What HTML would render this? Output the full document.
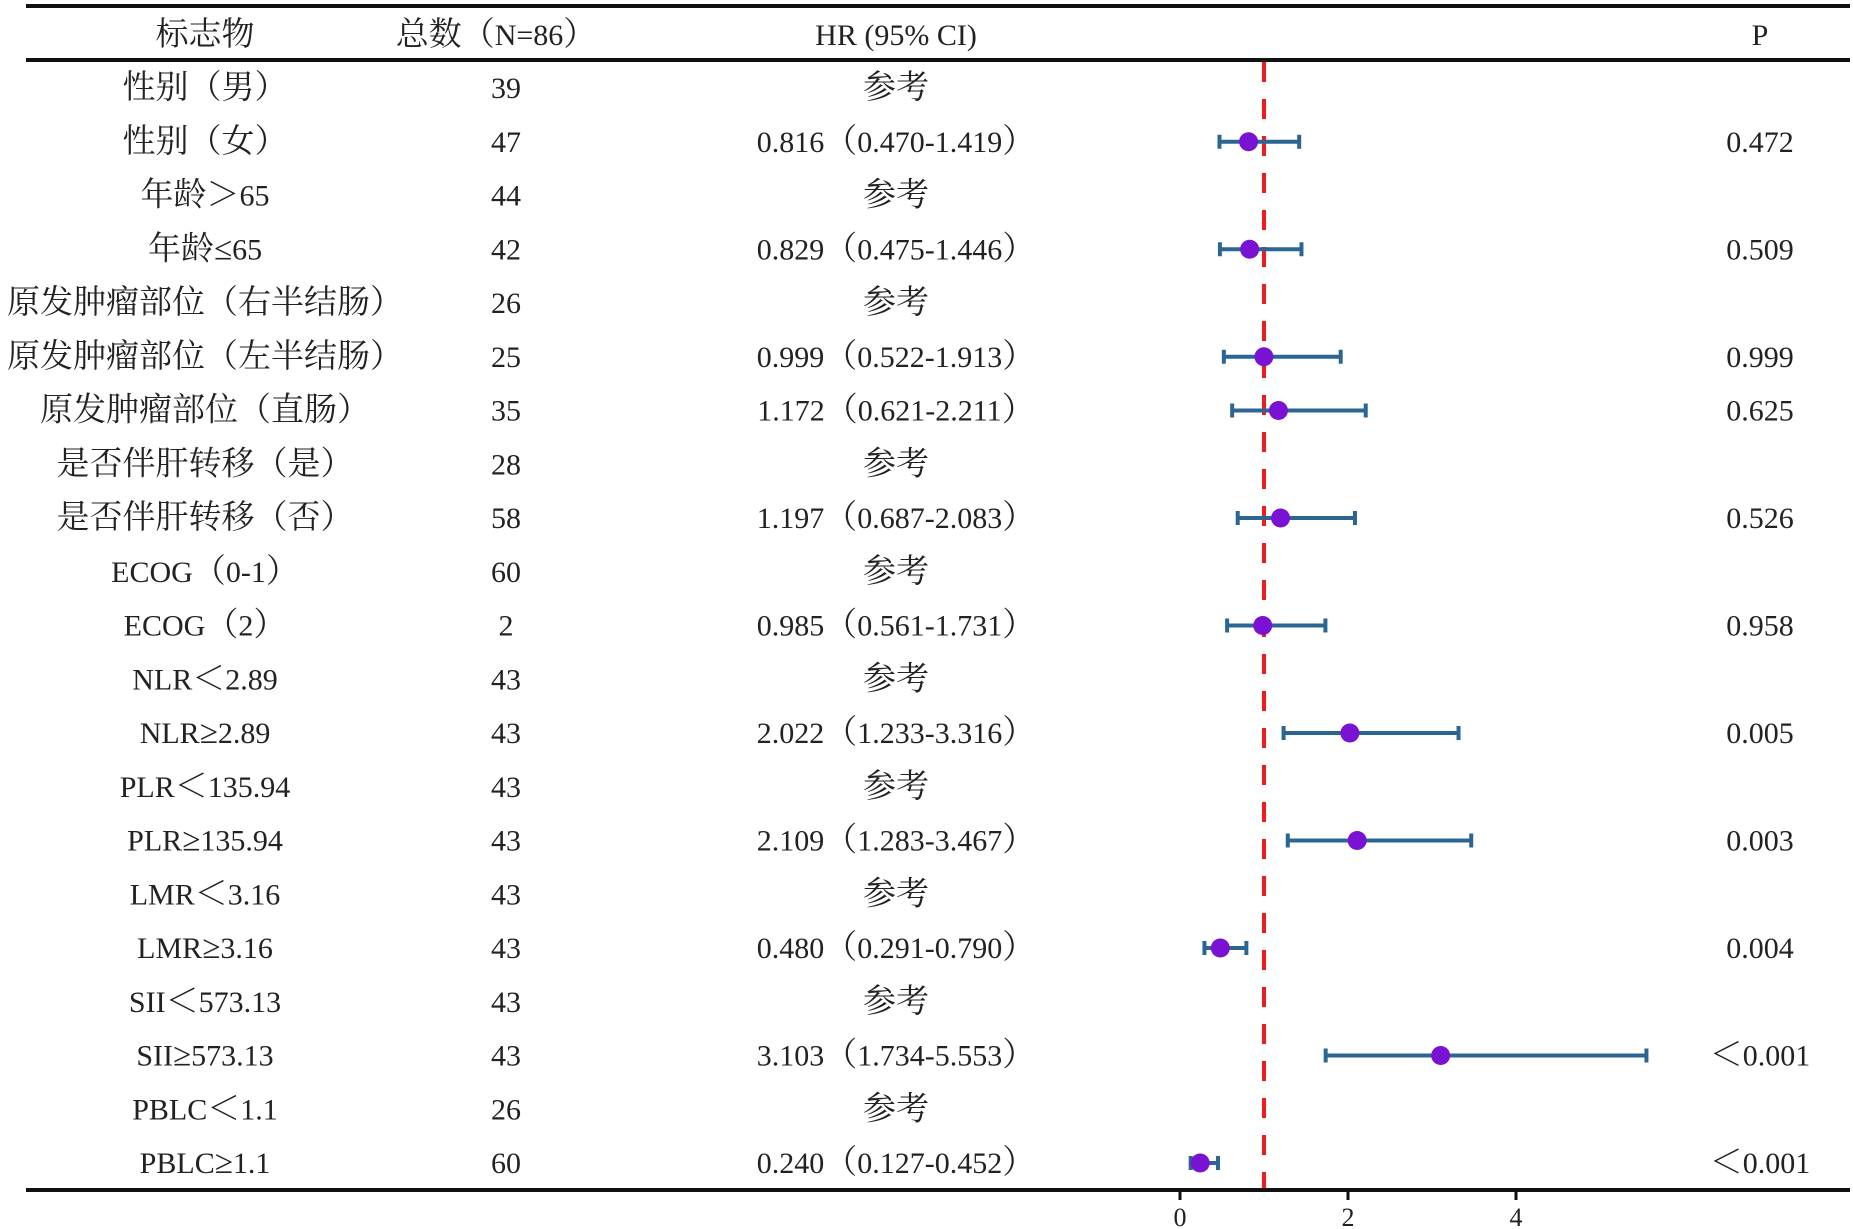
<!DOCTYPE html>
<html><head><meta charset="utf-8"><style>
html,body{margin:0;padding:0;background:#fff;}
svg{display:block;}
text{font-family:"Liberation Serif","Noto Serif CJK SC",serif;font-size:30px;fill:#222;}
</style></head><body>
<svg id="chart" width="1853" height="1229" viewBox="0 0 1853 1229"></svg>
<script>
const labels=["性别（男）","性别（女）","年龄＞65","年龄≤65","原发肿瘤部位（右半结肠）","原发肿瘤部位（左半结肠）","原发肿瘤部位（直肠）","是否伴肝转移（是）","是否伴肝转移（否）","ECOG（0-1）","ECOG（2）","NLR＜2.89","NLR≥2.89","PLR＜135.94","PLR≥135.94","LMR＜3.16","LMR≥3.16","SII＜573.13","SII≥573.13","PBLC＜1.1","PBLC≥1.1"];
const counts=[39,47,44,42,26,25,35,28,58,60,2,43,43,43,43,43,43,43,43,26,60];
const hr=[null,0.816,null,0.829,null,0.999,1.172,null,1.197,null,0.985,null,2.022,null,2.109,null,0.480,null,3.103,null,0.240];
const lo=[null,0.470,null,0.475,null,0.522,0.621,null,0.687,null,0.561,null,1.233,null,1.283,null,0.291,null,1.734,null,0.127];
const hi=[null,1.419,null,1.446,null,1.913,2.211,null,2.083,null,1.731,null,3.316,null,3.467,null,0.790,null,5.553,null,0.452];
const pvals=["","0.472","","0.509","","0.999","0.625","","0.526","","0.958","","0.005","","0.003","","0.004","","＜0.001","","＜0.001"];
const ticks=[0,2,4];
const refValue=1;

const svg=document.getElementById('chart');
const NS='http://www.w3.org/2000/svg';
const x=v=>1180+v*84;
const y=i=>88+i*53.75;
function mk(tag,attrs,parent){const e=document.createElementNS(NS,tag);for(const k in attrs)e.setAttribute(k,attrs[k]);(parent||svg).appendChild(e);return e;}
function txt(s,cx,cy,parent){
  const t=mk('text',{x:cx,y:cy,'text-anchor':'middle','dominant-baseline':'central'},parent);
  const runs=s.match(/[\u3000-\u9fff\uff00-\uffef\u2264\u2265]+|[^\u3000-\u9fff\uff00-\uffef\u2264\u2265]+/g)||[];
  runs.forEach(r=>{const sp=document.createElementNS(NS,'tspan');
    if(/[\u3000-\u9fff\uff00-\uffef\u2264\u2265]/.test(r))sp.setAttribute('style','font-size:33px');
    sp.textContent=r;t.appendChild(sp);});
  return t;}

let l=mk('line',{x1:26,x2:1850,y1:6,y2:6,stroke:'#111','stroke-width':4});


l=mk('line',{x1:26,x2:1850,y1:60,y2:60,stroke:'#111','stroke-width':4});


l=mk('line',{x1:26,x2:1850,y1:1190,y2:1190,stroke:'#111','stroke-width':4});



const hdr=[["标志物",205],["总数（N=86）",496],["HR (95% CI)",896],["P",1760]];
hdr.forEach(h=>{const t=txt(h[0],h[1],35);

});

ticks.forEach(v=>{
const tk=mk('line',{x1:x(v),x2:x(v),y1:1190,y2:1200,stroke:'#111','stroke-width':3});


const t=txt(String(v),x(v),1217);


t.setAttribute('style','font-size:26px');
});

const rl=mk('line',{x1:x(refValue),x2:x(refValue),y1:62,y2:1188,stroke:'#ee1c1c','stroke-width':4,'stroke-dasharray':'20 17'});



labels.forEach((lab,i)=>{
const cy=y(i);
const g=mk('g',{});


let t=txt(lab,205,cy,g);


t=txt(String(counts[i]),506,cy,g);


const s=hr[i]==null?"参考":hr[i].toFixed(3)+"（"+lo[i].toFixed(3)+"-"+hi[i].toFixed(3)+"）";
t=txt(s,896,cy,g);


if(pvals[i]){t=txt(pvals[i],1760,cy,g);

}
if(hr[i]!=null){
const c='#2b6692';
let e=mk('line',{x1:x(lo[i]),x2:x(hi[i]),y1:cy,y2:cy,stroke:c,'stroke-width':4},g);


e=mk('line',{x1:x(lo[i]),x2:x(lo[i]),y1:cy-7,y2:cy+7,stroke:c,'stroke-width':4},g);


e=mk('line',{x1:x(hi[i]),x2:x(hi[i]),y1:cy-7,y2:cy+7,stroke:c,'stroke-width':4},g);


e=mk('circle',{cx:x(hr[i]),cy:cy,r:9.5,fill:'#7a12d4'},g);


}
});
</script>
</body></html>
